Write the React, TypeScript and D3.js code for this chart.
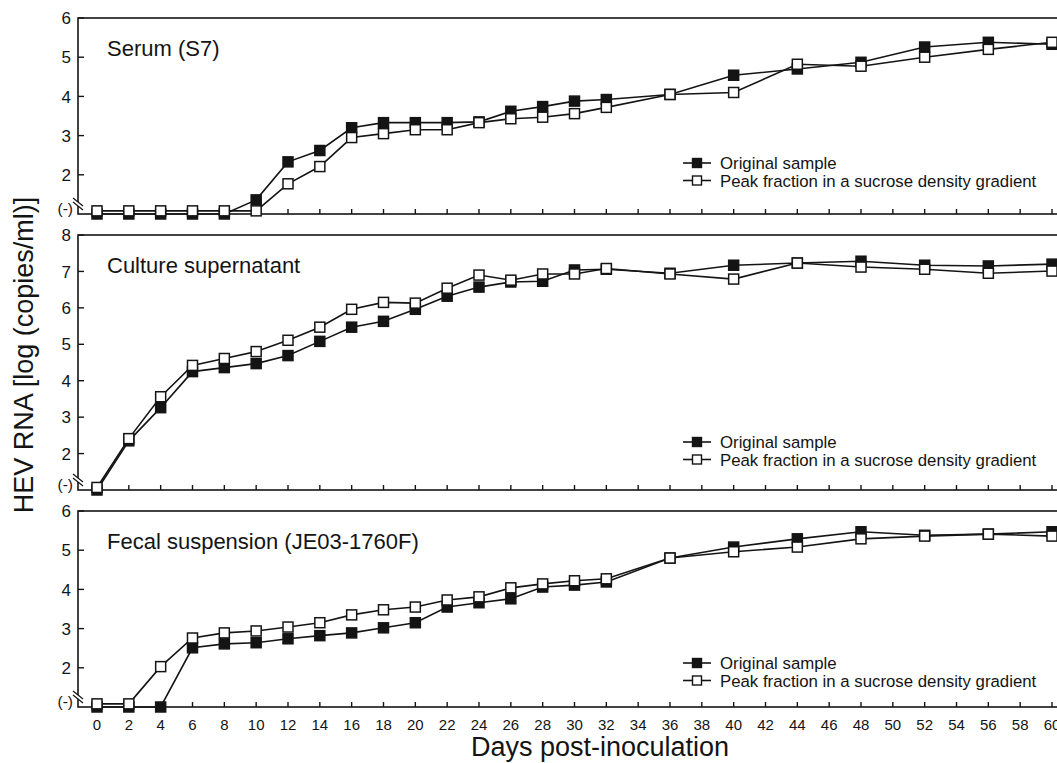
import React, { useEffect, useRef } from 'react';
import * as d3 from 'd3';

const width = 1057;
const height = 763;
const FONT = '"Liberation Sans", Arial, Helvetica, sans-serif';

// sampling days (x values shared by all panels)
const days = [0, 2, 4, 6, 8, 10, 12, 14, 16, 18, 20, 22, 24, 26, 28, 30, 32, 36, 40, 44, 48, 52, 56, 60];
const xTicks = d3.range(0, 61, 2);

// (-) = not detected, plotted at level 1
const serumOriginal = [1, 1, 1, 1, 1, 1.36, 2.33, 2.62, 3.2, 3.33, 3.33, 3.33, 3.35, 3.62, 3.74, 3.88, 3.92, 4.05, 4.54, 4.7, 4.87, 5.26, 5.38, 5.33];
const serumPeak = [1.08, 1.08, 1.08, 1.08, 1.08, 1.08, 1.77, 2.21, 2.95, 3.05, 3.15, 3.15, 3.33, 3.43, 3.47, 3.56, 3.72, 4.05, 4.1, 4.82, 4.77, 5.0, 5.2, 5.38];

const cultureOriginal = [1, 2.35, 3.26, 4.25, 4.36, 4.47, 4.69, 5.08, 5.47, 5.63, 5.96, 6.32, 6.57, 6.71, 6.73, 7.04, 7.06, 6.95, 7.17, 7.23, 7.28, 7.17, 7.15, 7.2];
const culturePeak = [1.07, 2.41, 3.56, 4.42, 4.61, 4.8, 5.11, 5.47, 5.96, 6.15, 6.13, 6.54, 6.9, 6.76, 6.93, 6.93, 7.08, 6.93, 6.79, 7.23, 7.12, 7.06, 6.95, 7.01];

const fecalOriginal = [1, 1, 1, 2.51, 2.61, 2.64, 2.74, 2.82, 2.89, 3.02, 3.15, 3.55, 3.66, 3.76, 4.06, 4.11, 4.19, 4.8, 5.08, 5.29, 5.47, 5.38, 5.41, 5.47];
const fecalPeak = [1.08, 1.08, 2.03, 2.76, 2.89, 2.94, 3.04, 3.15, 3.35, 3.48, 3.55, 3.73, 3.81, 4.04, 4.14, 4.22, 4.27, 4.8, 4.96, 5.08, 5.29, 5.36, 5.41, 5.36];

const seriesNames = ['Original sample', 'Peak fraction in a sucrose density gradient'];

const panels = [
  { title: 'Serum (S7)', top: 18, bottom: 214, yMax: 6, original: serumOriginal, peak: serumPeak, legendOffset: 51 },
  { title: 'Culture supernatant', top: 235, bottom: 490, yMax: 8, original: cultureOriginal, peak: culturePeak, legendOffset: 48 },
  { title: 'Fecal suspension (JE03-1760F)', top: 511, bottom: 707, yMax: 6, original: fecalOriginal, peak: fecalPeak, legendOffset: 44 },
];

const left = 78;
const right = 1070;

const App = () => {
  const svgRef = useRef<SVGSVGElement>(null);

  useEffect(() => {
    const svg = d3.select(svgRef.current);
    svg.selectAll('*').remove();

    const x = d3.scaleLinear().domain([0, 60]).range([97, 1052]);
    const ink = '#141414';
    const msize = 10;

    panels.forEach((p, pi) => {
      const y = d3.scaleLinear().domain([1, p.yMax]).range([p.bottom, p.top]);
      const g = svg.append('g');

      // frame
      g.append('rect')
        .attr('x', left).attr('y', p.top)
        .attr('width', right - left).attr('height', p.bottom - p.top)
        .attr('fill', 'none').attr('stroke', ink).attr('stroke-width', 1.6);

      // y ticks (inward)
      const yTicks = d3.range(2, p.yMax + 1);
      g.selectAll('.yt').data(yTicks).enter().append('line')
        .attr('x1', left).attr('x2', left + 6)
        .attr('y1', d => y(d)).attr('y2', d => y(d))
        .attr('stroke', ink).attr('stroke-width', 1.4);
      g.selectAll('.yl').data(yTicks).enter().append('text')
        .attr('x', 71).attr('y', d => y(d)).attr('dy', '0.36em')
        .attr('text-anchor', 'end')
        .attr('font-family', FONT).attr('font-size', 17).attr('fill', ink)
        .text(d => d);
      g.append('text')
        .attr('x', 73).attr('y', p.bottom - 6).attr('dy', '0.36em')
        .attr('text-anchor', 'end')
        .attr('font-family', FONT).attr('font-size', 15.5).attr('fill', ink)
        .text('(-)');

      // axis break marks
      const by = p.bottom - 10;
      g.append('rect').attr('x', left - 2).attr('y', by - 2).attr('width', 4).attr('height', 4).attr('fill', '#fff');
      [-2, 2].forEach(o => {
        g.append('line')
          .attr('x1', left - 5).attr('y1', by + o - 4)
          .attr('x2', left + 5).attr('y2', by + o + 4)
          .attr('stroke', ink).attr('stroke-width', 1.3);
      });

      // x ticks (inward)
      g.selectAll('.xt').data(xTicks).enter().append('line')
        .attr('x1', d => x(d)).attr('x2', d => x(d))
        .attr('y1', p.bottom).attr('y2', p.bottom - 5)
        .attr('stroke', ink).attr('stroke-width', 1.4);

      // panel title
      g.append('text')
        .attr('x', 107).attr('y', p.top + 38)
        .attr('font-family', FONT).attr('font-size', 22).attr('fill', ink)
        .text(p.title);

      // series
      const line = d3.line<number>().x((_, i) => x(days[i])).y(d => y(d));
      [p.original, p.peak].forEach((vals, si) => {
        g.append('path')
          .attr('d', line(vals))
          .attr('fill', 'none').attr('stroke', ink).attr('stroke-width', 1.6);
        g.selectAll(`.m${si}`).data(vals).enter().append('rect')
          .attr('x', (_, i) => x(days[i]) - msize / 2)
          .attr('y', d => y(d) - msize / 2)
          .attr('width', msize).attr('height', msize)
          .attr('fill', si === 0 ? ink : '#fff')
          .attr('stroke', ink).attr('stroke-width', 1.5);
      });

      // legend
      seriesNames.forEach((name, si) => {
        const ly = p.bottom - p.legendOffset + si * 17.5;
        g.append('line').attr('x1', 683).attr('x2', 711).attr('y1', ly).attr('y2', ly)
          .attr('stroke', ink).attr('stroke-width', 1.6);
        g.append('rect').attr('x', 697 - 4.5).attr('y', ly - 4.5).attr('width', 9).attr('height', 9)
          .attr('fill', si === 0 ? ink : '#fff').attr('stroke', ink).attr('stroke-width', 1.4);
        g.append('text').attr('x', 720).attr('y', ly).attr('dy', '0.36em')
          .attr('font-family', FONT).attr('font-size', 16.8).attr('fill', ink)
          .text(name);
      });

      // x tick labels only on the last panel
      if (pi === panels.length - 1) {
        g.selectAll('.xl').data(xTicks).enter().append('text')
          .attr('x', d => x(d)).attr('y', p.bottom + 18).attr('dy', '0.36em')
          .attr('text-anchor', 'middle')
          .attr('font-family', FONT).attr('font-size', 15).attr('fill', ink)
          .text(d => d);
      }
    });

    // axis titles
    svg.append('text')
      .attr('x', 600).attr('y', 756)
      .attr('text-anchor', 'middle')
      .attr('font-family', FONT).attr('font-size', 27).attr('fill', ink)
      .text('Days post-inoculation');

    svg.append('text')
      .attr('transform', 'translate(33,355) rotate(-90)')
      .attr('text-anchor', 'middle')
      .attr('font-family', FONT).attr('font-size', 27).attr('fill', ink)
      .text('HEV RNA [log (copies/ml)]');
  }, []);

  return (
    <svg
      ref={svgRef}
      width={width}
      height={height}
      style={{ position: 'absolute', left: 0, top: 0, background: '#fff' }}
    />
  );
};

export default App;
